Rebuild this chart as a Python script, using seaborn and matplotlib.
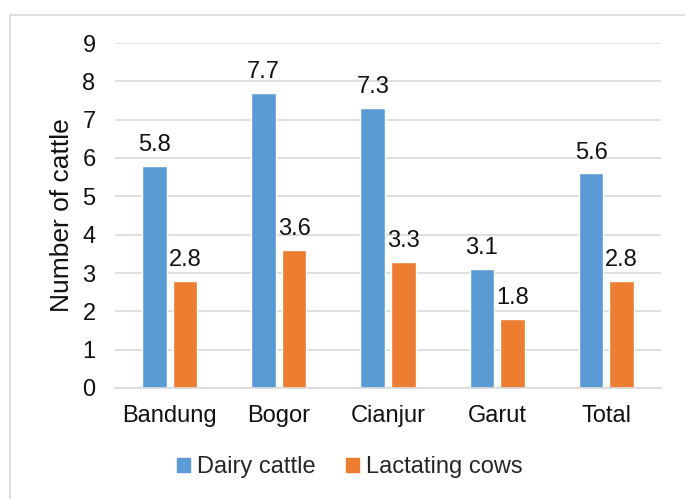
import matplotlib
matplotlib.use("Agg")
import matplotlib.pyplot as plt
from matplotlib.lines import Line2D
import pandas as pd
import seaborn as sns

regions = ["Bandung", "Bogor", "Cianjur", "Garut", "Total"]
dairy_cattle = [5.8, 7.7, 7.3, 3.1, 5.6]
lactating_cows = [2.8, 3.6, 3.3, 1.8, 2.8]
series_names = ["Dairy cattle", "Lactating cows"]
y_ticks = list(range(0, 10))

df = pd.DataFrame({
    "region": regions * 2,
    "series": [series_names[0]] * len(regions) + [series_names[1]] * len(regions),
    "value": dairy_cattle + lactating_cows,
})

sns.set_theme(style="white")
plt.rcParams["font.family"] = ["Liberation Sans", "DejaVu Sans"]
FS = 17

W, H = 685, 499
fig = plt.figure(figsize=(W / 100, H / 100), dpi=100)
ax = fig.add_axes([115 / W, 1 - 388 / H, (661 - 115) / W, (388 - 43) / H])

palette = {"Dairy cattle": "#5B9BD5", "Lactating cows": "#ED7D31"}
sns.barplot(data=df, x="region", y="value", hue="series", palette=palette,
            width=0.56, gap=0.2, ax=ax, legend=False, saturation=1)

for cont in ax.containers:
    ax.bar_label(cont, fmt="%.1f", padding=7, fontsize=FS, color="#111111")

ax.set_ylim(0, 9)
ax.set_yticks(y_ticks)
ax.yaxis.grid(True, color="#D9D9D9", linewidth=1.2)
ax.set_axisbelow(True)
for s in ["top", "right", "left"]:
    ax.spines[s].set_visible(False)
ax.spines["bottom"].set_color("#D9D9D9")
ax.spines["bottom"].set_linewidth(1.2)
ax.tick_params(axis="both", length=0, labelsize=FS, colors="#111111")
ax.tick_params(axis="y", pad=14)
ax.tick_params(axis="x", pad=12)
ax.set_xlabel("")
ax.set_ylabel("Number of cattle", fontsize=19, color="#111111")
ax.yaxis.set_label_coords(-0.075, 0.5)

handles = [plt.Rectangle((0, 0), 1, 1, color=palette[n]) for n in series_names]
fig.legend(handles, series_names, loc="center", bbox_to_anchor=(350 / W, 1 - 467 / H),
           ncol=2, frameon=False, fontsize=FS, handlelength=0.55, handleheight=0.55,
           handletextpad=0.3, columnspacing=1.3)

# chart border (only top and left visible in the crop)
fig.add_artist(Line2D([9.5 / W, 1], [1 - 14.5 / H] * 2, color="#D9D9D9", lw=1.2,
                      transform=fig.transFigure))
fig.add_artist(Line2D([9.5 / W] * 2, [0, 1 - 14.5 / H], color="#D9D9D9", lw=1.2,
                      transform=fig.transFigure))

fig.savefig("out.png", dpi=100)
